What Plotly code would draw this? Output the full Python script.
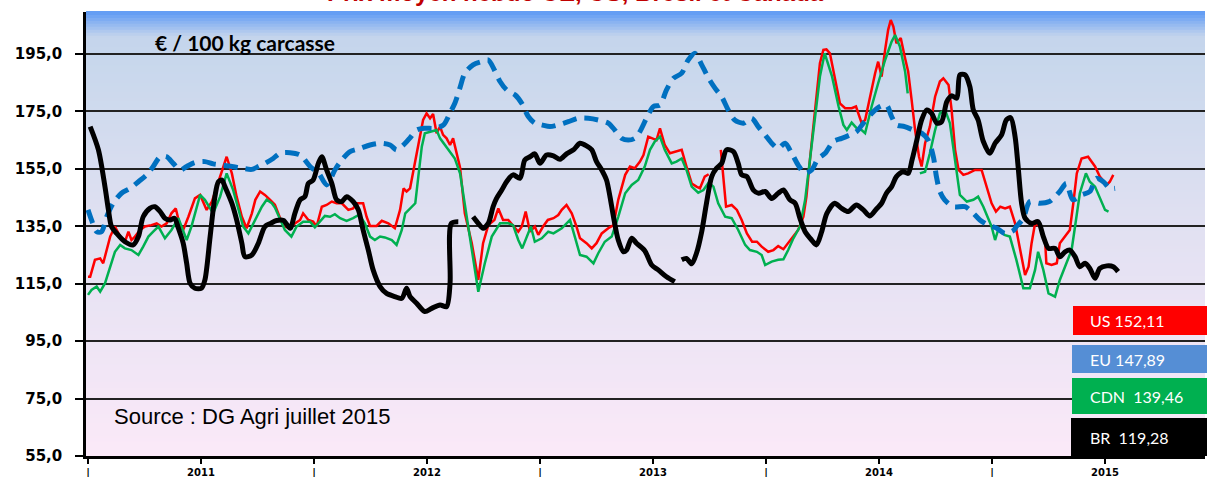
import plotly.graph_objects as go

# weekly prices, x = week index from start of the chart (tick every 26 weeks)
us_weeks = [0, 0.5, 1.6, 2.8, 3.5, 4.3, 5.1, 6.2, 7.4, 8.5, 9.3, 10.0, 10.8, 12.0, 13.1, 14.6, 15.8, 16.9, 18.1, 19.2,
            20.2, 21.2, 21.9, 23.1, 24.6, 25.8, 27.3, 28.5, 29.6, 30.8, 31.9, 33.1, 34.2, 35.4, 36.5, 37.7, 38.5, 39.6,
            40.7, 41.9, 43.0, 44.2, 45.3, 46.5, 47.6, 48.8, 49.5, 50.7, 51.8, 52.6, 53.8, 54.9, 56.1, 57.2, 58.4, 59.9,
            61.0, 61.8, 63.3, 64.1, 64.9, 66.4, 67.6, 69.1, 70.6, 71.8, 72.6, 73.3, 74.1, 74.9, 76.0, 77.1, 77.9, 78.7,
            79.4, 80.2, 81.0, 81.7, 82.5, 83.3, 84.0, 84.8, 85.6, 86.7, 88.3, 89.8, 90.9, 92.1, 93.5, 94.4, 95.5, 96.7,
            97.8, 99.0, 99.8, 100.7, 101.7, 102.8, 103.6, 104.7, 105.8, 107.1, 108.2, 109.0, 110.1, 111.3, 112.4, 113.2,
            114.7, 115.9, 117.0, 118.2, 119.7, 120.9, 122.0, 123.6, 124.7, 125.8, 127.0, 127.8, 128.9, 130.1, 130.8,
            131.6, 132.7, 133.9, 135.4, 136.6, 137.7, 138.9, 140.0, 140.8, 141.9, 142.8, 144.0, 145.6, 146.8, 148.1,
            149.3, 150.4, 151.6, 152.8, 153.9, 155.0, 156.5, 157.7, 158.8, 160.0, 161.1, 162.3, 163.4, 164.6, 165.3,
            166.1, 166.9, 167.6, 168.4, 169.2, 169.9, 170.7, 171.9, 173.0, 174.2, 175.7, 176.7, 177.2, 178.0, 178.8,
            179.9, 181.1, 181.8, 182.6, 183.4, 184.1, 184.7, 185.3, 186.0, 187.0, 187.9, 188.7, 189.5, 190.3, 191.2,
            191.8, 192.6, 193.7, 194.9, 196.0, 196.8, 198.0, 198.7, 199.5, 200.3, 201.4, 202.5, 204.1, 205.6, 206.8,
            207.9, 208.9, 209.9, 211.0, 212.1, 213.3, 214.4, 215.6, 216.4, 217.1, 217.9, 219.0, 220.2, 220.5, 221.7,
            222.9, 223.6, 224.8, 225.9, 226.7, 227.5, 228.6, 230.1, 231.7, 232.8, 234.4, 235.1, 235.9]
us_vals = [117.4, 117.4, 123.3, 123.8, 122.1, 126.7, 131.4, 134.9, 131.4, 129.6, 133.1, 130.2, 131.4, 133.7, 134.9,
           135.4, 136.0, 134.9, 136.0, 139.5, 141.2, 134.9, 133.7, 138.3, 144.7, 145.9, 140.7, 143.6, 148.8, 154.6,
           159.2, 153.4, 145.3, 138.3, 134.3, 139.5, 144.2, 147.1, 145.9, 144.2, 142.5, 137.8, 134.9, 134.3, 136.0,
           137.2, 139.5, 137.2, 136.6, 134.9, 141.8, 142.4, 143.6, 143.0, 143.0, 140.7, 141.2, 143.0, 143.0, 138.3,
           135.1, 135.1, 136.9, 136.0, 134.3, 140.7, 148.2, 147.1, 148.2, 154.6, 163.9, 172.0, 174.3, 172.6, 174.1,
           167.4, 169.7, 166.8, 165.6, 163.3, 165.6, 160.4, 155.5, 139.5, 129.1, 116.3, 129.1, 135.4, 137.2, 141.2,
           137.2, 137.2, 135.4, 133.1, 134.9, 140.1, 133.1, 134.9, 132.0, 134.9, 137.2, 137.8, 138.9, 140.7, 142.4,
           139.5, 134.9, 130.8, 129.1, 127.3, 129.1, 132.5, 134.3, 135.4, 144.2, 152.9, 155.8, 155.2, 157.5, 159.8,
           166.2, 165.6, 165.0, 169.1, 163.3, 160.4, 161.0, 161.6, 155.8, 149.9, 148.8, 148.2, 152.3, 153.1, None,
           161.6, 141.8, 142.4, 140.7, 137.2, 132.5, 129.6, 129.6, 127.9, 126.1, 126.7, 128.1, 127.0, 129.1, 131.4,
           133.7, 138.3, 145.3, 158.1, 169.7, 181.3, 191.8, 196.4, 196.6, 195.2, 185.9, 177.8, 176.1, 176.1, 176.7,
           174.3, 170.9, 172.0, 180.1, 188.3, 192.3, 187.1, 196.4, 203.4, 206.8, 204.5, 198.7, 200.5, 194.1, 188.9,
           179.0, 168.5, 159.2, 155.8, 163.9, 169.7, 180.1, 185.4, 186.5, 184.2, 175.5, 161.6, 154.6, 152.9, 153.4,
           154.6, 154.6, 148.8, 143.0, 140.1, 141.8, 141.2, 141.8, 136.0, 126.7, 118.0, 120.9, 129.1, 136.0, 134.9,
           130.2, 122.1, 121.5, 122.1, 129.1, 131.4, 133.7, 143.0, 153.4, 158.6, 159.2, 155.8, 152.3, 149.4, 150.5,
           152.9]

eu_weeks = [0, 0.8, 2.0, 3.1, 4.3, 5.8, 7.7, 9.7, 11.6, 13.5, 15.0, 16.6, 18.1, 19.6, 21.2, 22.7, 24.6, 26.9, 28.8,
            30.8, 33.1, 35.4, 37.7, 39.2, 40.7, 42.6, 44.2, 46.5, 48.8, 51.1, 53.1, 54.9, 56.8, 58.4, 60.3, 62.6, 64.9,
            67.2, 69.5, 71.0, 72.6, 74.1, 75.6, 77.5, 79.8, 81.8, 83.3, 84.4, 85.6, 86.7, 88.6, 90.5, 92.1, 93.5, 94.8,
            96.3, 98.3, 99.8, 101.3, 102.8, 104.4, 106.3, 108.2, 110.5, 112.8, 115.1, 117.4, 119.7, 121.2, 122.8, 124.3,
            125.8, 127.0, 128.5, 130.1, 131.6, 133.1, 134.7, 136.6, 138.1, 139.7, 141.2, 142.8, 144.3, 145.8, 147.3,
            148.8, 150.8, 152.7, 154.2, 155.8, 157.3, 158.8, 160.4, 161.9, 163.4, 164.9, 166.5, 168.0, 169.6, 171.5,
            173.4, 175.3, 176.8, 178.4, 180.3, 182.2, 183.7, 184.9, 186.0, 187.9, 189.9, 191.8, 193.3, 194.5, 195.2,
            196.0, 197.1, 199.1, 201.8, 203.7, 205.2, 207.1, 209.1, 211.0, 212.9, 213.6, 215.2, 216.7, 219.0, 221.2,
            223.6, 225.1, 226.6, 228.6, 230.5, 232.0, 233.6, 235.1, 236.3]
eu_vals = [140.7, 137.2, 133.1, 133.1, 138.3, 143.0, 146.5, 148.2, 150.5, 152.9, 155.8, 159.2, 159.2, 156.9, 154.6,
           155.8, 157.2, 157.5, 156.7, 156.3, 155.8, 155.2, 154.8, 155.8, 156.9, 158.6, 160.4, 160.6, 159.8, 155.8,
           153.4, 149.4, 154.6, 158.1, 161.0, 162.1, 163.3, 163.9, 163.3, 161.6, 163.3, 165.8, 168.5, 169.1, 169.1,
           170.3, 174.5, 177.8, 183.3, 188.3, 191.2, 192.3, 192.9, 189.4, 185.4, 182.5, 180.7, 177.8, 173.2, 170.9,
           170.3, 169.7, 170.3, 171.4, 172.6, 172.6, 172.0, 170.9, 168.5, 165.6, 165.0, 165.6, 168.0, 172.6, 176.7,
           177.2, 182.5, 186.5, 188.3, 192.9, 195.2, 191.2, 186.5, 183.0, 180.1, 175.5, 172.0, 170.9, 172.6, 169.7,
           166.8, 163.9, 162.1, 163.9, 160.4, 156.3, 153.4, 154.6, 158.6, 160.4, 164.5, 165.6, 166.8, 167.9, 170.9,
           174.3, 176.7, 177.2, 173.2, 170.3, 169.7, 168.5, 167.4, 165.0, 159.2, 152.3, 147.1, 144.2, 141.8, 141.8,
           139.5, 137.2, 135.4, 134.3, 132.5, 133.5, 134.9, 137.8, 143.6, 143.0, 143.6, 147.1, 149.9, 144.2, 145.9,
           147.1, 151.7, 150.5, 148.2, 148.2]

cdn_weeks = [0, 0.8, 2.0, 2.8, 3.9, 5.1, 6.2, 7.4, 8.5, 10.0, 11.6, 12.7, 13.9, 15.0, 16.2, 17.7, 19.2, 20.8, 21.9,
             22.7, 23.8, 25.8, 26.9, 28.8, 30.4, 31.9, 33.4, 34.6, 35.7, 36.9, 38.4, 40.0, 41.1, 42.3, 43.0, 44.2, 45.3,
             46.8, 48.0, 49.5, 51.1, 52.2, 53.4, 54.5, 55.7, 56.8, 58.0, 59.5, 61.0, 62.4, 63.7, 64.9, 66.0, 67.2, 68.3,
             69.9, 71.0, 72.2, 73.0, 74.1, 75.3, 76.0, 76.8, 77.5, 78.7, 79.4, 80.2, 81.0, 82.1, 83.3, 84.4, 85.6, 86.7,
             88.3, 89.8, 91.3, 92.9, 94.8, 96.7, 97.8, 99.0, 99.9, 100.9, 101.9, 102.8, 104.4, 105.9, 107.1, 109.0,
             110.9, 112.0, 113.2, 114.7, 116.3, 117.4, 118.9, 120.5, 122.0, 123.6, 125.1, 126.6, 128.1, 129.3, 130.4,
             131.6, 132.7, 134.3, 135.4, 136.6, 137.7, 138.9, 140.4, 141.6, 142.8, 143.9, 145.0, 146.6, 148.1, 149.6,
             151.2, 152.3, 153.9, 155.0, 155.8, 157.3, 158.8, 160.0, 161.1, 162.3, 163.8, 165.0, 166.1, 167.2, 168.4,
             169.5, 171.2, 172.7, 173.8, 174.6, 175.7, 176.9, 178.0, 178.8, 180.3, 181.8, 183.4, 184.9, 185.7, 186.8,
             188.0, 188.6, 190.0, 191.4, 192.6, 193.7, 194.9, 196.0, 197.2, 198.3, 199.1, 199.9, 200.6, 202.2, 203.7,
             204.8, 206.0, 207.1, 207.9, 208.7, 209.4, 211.0, 212.1, 213.6, 215.2, 216.7, 217.9, 218.6, 219.8, 221.0,
             222.5, 223.6, 225.2, 226.3, 227.1, 228.2, 229.6, 230.5, 231.7, 232.8, 234.0, 234.8]
cdn_vals = [111.1, 112.8, 114.0, 112.2, 115.1, 120.9, 126.1, 128.5, 127.3, 126.7, 125.0, 127.9, 131.4, 133.1, 134.9,
            130.8, 133.7, 137.8, 133.1, 130.2, 134.9, 145.9, 144.2, 139.5, 145.3, 153.4, 147.6, 140.7, 134.9, 132.5,
            137.2, 141.8, 144.2, 143.0, 141.5, 137.2, 133.7, 131.4, 134.9, 136.6, 136.6, 134.6, 136.6, 138.6, 138.3,
            139.2, 137.8, 136.9, 137.8, 139.0, 136.0, 131.4, 130.2, 131.4, 131.1, 130.2, 128.5, 133.7, 139.5, 141.2,
            143.0, 152.3, 162.7, 167.4, 167.9, 168.3, 168.5, 165.6, 163.3, 161.0, 158.6, 153.4, 143.0, 127.9, 112.2,
            122.1, 131.4, 136.0, 136.0, 135.4, 130.2, 127.3, 131.4, 134.9, 129.6, 130.8, 133.1, 132.5, 134.3, 137.2,
            131.4, 125.0, 124.4, 122.1, 125.6, 129.6, 131.4, 138.3, 146.5, 149.4, 151.1, 155.8, 161.6, 164.5, 166.2,
            161.6, 156.9, 157.5, 158.6, 154.6, 148.8, 146.7, 147.6, 150.2, 148.8, 143.0, 138.3, 137.8, 133.7, 128.5,
            126.7, 126.1, 125.0, 121.5, 122.7, 123.3, 123.5, 126.7, 130.8, 134.9, 144.2, 158.1, 173.2, 187.1, 195.2,
            187.1, 176.7, 170.3, 168.5, 171.1, 169.1, 168.5, 167.4, 176.7, 184.8, 192.9, 199.3, 201.6, 197.6, 188.9,
            181.3, None, 153.4, 154.0, 160.4, 168.5, 174.3, 175.5, 170.9, 161.6, 152.3, 145.9, 143.6, 144.2, 145.3,
            141.8, 137.8, 134.9, 130.2, 133.7, 131.9, 131.4, 123.3, 113.4, 113.4, 119.8, 126.1, 119.8, 111.6, 110.5,
            116.3, 122.1, 126.7, 134.9, 146.5, 153.4, 150.5, 148.8, 144.7, 140.7, 140.1]

br_weeks = [0.5, 2.4, 3.9, 4.7, 5.4, 6.6, 8.5, 10.4, 11.6, 12.7, 14.3, 15.4, 16.6, 17.7, 18.9, 19.9, 20.8, 21.9, 22.7,
            23.5, 24.6, 26.1, 26.9, 28.1, 29.2, 30.0, 30.8, 31.5, 33.1, 34.2, 35.4, 36.1, 37.7, 39.2, 40.7, 42.0, 43.4,
            45.0, 46.5, 47.6, 48.8, 49.9, 50.7, 51.8, 53.0, 53.8, 54.9, 56.1, 57.2, 58.4, 59.5, 61.0, 62.2, 63.3, 64.5,
            65.6, 67.2, 68.7, 70.6, 72.2, 73.3, 74.1, 75.6, 77.5, 79.1, 81.0, 82.5, 83.3, 83.6, 85.2, 86.9, 88.6, 89.8,
            90.9, 92.1, 93.2, 94.0, 95.2, 96.3, 97.8, 99.4, 100.5, 101.7, 102.8, 104.0, 105.5, 107.1, 108.6, 110.1,
            111.7, 113.2, 114.7, 115.9, 117.0, 118.2, 119.3, 120.1, 120.9, 122.0, 123.2, 123.9, 125.1, 126.2, 128.1,
            129.7, 131.2, 133.1, 135.0, 135.8, 136.6, 137.7, 138.9, 140.0, 141.2, 142.3, 143.5, 144.6, 145.8, 146.9,
            148.5, 149.6, 150.4, 151.6, 153.1, 154.3, 155.8, 157.3, 158.8, 160.0, 161.5, 162.7, 163.8, 165.0, 166.5,
            167.6, 168.8, 170.0, 171.8, 173.4, 174.9, 176.8, 178.4, 179.9, 181.5, 182.6, 183.7, 184.9, 186.0, 187.6,
            188.7, 189.6, 190.7, 191.8, 193.0, 194.1, 195.3, 196.4, 197.6, 198.7, 199.9, 200.6, 201.8, 202.9, 203.7,
            204.8, 206.0, 207.5, 208.7, 210.2, 211.3, 212.3, 213.3, 214.0, 214.8, 215.6, 217.1, 218.6, 219.8, 221.0,
            222.5, 223.6, 224.8, 225.9, 227.1, 228.2, 229.4, 230.5, 231.7, 232.8, 234.4, 235.9, 237.0]
br_vals = [169.7, 161.6, 148.8, 140.7, 134.9, 132.5, 129.6, 128.5, 131.4, 138.3, 141.3, 141.8, 140.1, 137.8, 137.2,
           137.8, 134.3, 129.1, 122.1, 115.1, 113.4, 113.4, 116.3, 131.4, 145.3, 150.5, 151.1, 148.8, 143.0, 137.2,
           129.1, 124.4, 125.0, 129.1, 134.9, 136.0, 137.0, 137.0, 134.3, 139.5, 144.2, 145.3, 149.9, 151.1, 156.9,
           159.2, 154.6, 149.9, 144.2, 143.6, 145.3, 143.6, 140.7, 133.7, 126.7, 119.8, 114.0, 111.6, 110.5, 109.9,
           113.4, 110.5, 108.2, 105.3, 106.4, 107.6, 107.0, 115.1, 136.0, 136.6, None, 138.3, 136.0, 134.3, 136.0,
           141.8, 144.7, 147.6, 150.5, 152.9, 151.7, 158.1, 159.2, 160.2, 156.9, 159.8, 159.5, 158.3, 160.2, 161.6,
           163.9, 163.0, 161.6, 157.5, 154.6, 151.1, 145.3, 138.3, 130.2, 126.1, 126.7, 130.8, 129.1, 126.5, 121.5,
           119.8, 117.4, 115.7, None, 123.3, 123.8, 121.9, 125.6, 133.1, 143.0, 152.3, 155.2, 156.9, 161.6, 161.0,
           156.9, 152.9, 152.3, 147.6, 146.5, 147.1, 144.7, 146.5, 147.6, 144.2, 143.0, 137.8, 133.1, 130.2, 128.5,
           133.1, 139.5, 143.0, 141.2, 140.1, 142.4, 140.7, 138.6, 141.2, 143.0, 146.5, 148.8, 152.3, 154.0, 153.4,
           158.1, 165.0, 172.0, 175.5, 174.3, 170.9, 171.4, 178.4, 180.4, 179.6, 187.7, 187.7, 183.6, 175.5, 172.0,
           164.5, 160.4, 163.9, 166.8, 172.0, 172.8, 166.2, 155.8, 143.0, 137.8, 136.0, 136.6, 131.4, 127.3, 127.3,
           124.4, 126.1, 126.7, 124.4, 120.9, 122.1, 120.3, 116.9, 120.3, 121.2, 120.9, 119.2]

tick_weeks = [0, 26, 52, 78, 104, 130, 156, 182, 208, 234]
tick_labels = ['|', '2011', '|', '2012', '|', '2013', '|', '2014', '|', '2015']
y_ticks = [55, 75, 95, 115, 135, 155, 175, 195]

last_labels = ['US 152,11', 'EU 147,89', 'CDN  139,46', 'BR  119,28']
last_colors = ['#ff0000', '#558ed5', '#00b050', '#000000']

W, H = 1207, 477
L, R, T, B = 86, 2, 12, 21


def px_x(p):
    return (p - L) / (W - L - R)


def px_y(p):
    return (H - B - p) / (H - T - B)


fig = go.Figure()
fig.add_trace(go.Scatter(x=us_weeks, y=us_vals, mode='lines', line=dict(color='#ff0000', width=2.5)))
fig.add_trace(go.Scatter(x=cdn_weeks, y=cdn_vals, mode='lines', line=dict(color='#00b050', width=2.5)))
fig.add_trace(go.Scatter(x=eu_weeks, y=eu_vals, mode='lines',
                         line=dict(color='#0070c0', width=5, dash='14px,8px', shape='spline', smoothing=0.8)))
fig.add_trace(go.Scatter(x=br_weeks, y=br_vals, mode='lines',
                         line=dict(color='#000000', width=5, shape='spline', smoothing=0.8)))

# background gradient of the plot area
stops = [(0.0, (251, 233, 248)), (0.5, (226, 225, 242)), (0.9, (199, 215, 236)),
         (0.945, (196, 212, 236)), (1.0, (95, 155, 245))]


def grad(t):
    for (a, ca), (b, cb) in zip(stops[:-1], stops[1:]):
        if a <= t <= b:
            f = (t - a) / (b - a)
            return 'rgb(%d,%d,%d)' % tuple(round(ca[i] + f * (cb[i] - ca[i])) for i in range(3))
    return 'rgb(%d,%d,%d)' % stops[-1][1]


n = 150
shapes = []
for i in range(n):
    shapes.append(dict(type='rect', xref='paper', yref='paper', x0=0, x1=1, y0=i / n, y1=(i + 1) / n + 0.002,
                       fillcolor=grad((i + 0.5) / n), line=dict(width=0), layer='below'))

# value boxes on the right
boxes = [(1073, 306, 335), (1072, 345, 373), (1072, 378, 414), (1071, 418, 456)]
annotations = []
for (x0, y0, y1), lab, col in zip(boxes, last_labels, last_colors):
    shapes.append(dict(type='rect', xref='paper', yref='paper', x0=px_x(x0), x1=px_x(W + 2),
                       y0=px_y(y1), y1=px_y(y0), fillcolor=col, line=dict(width=0), layer='above'))
    annotations.append(dict(text=lab, xref='paper', yref='paper', x=px_x(1088), y=px_y((y0 + y1) / 2),
                            xanchor='left', yanchor='middle', showarrow=False,
                            font=dict(family='Lato', size=16, color='white')))

annotations.append(dict(text='Prix moyen hebdo UE, US, Brésil et Canada', xref='paper', yref='paper',
                        x=px_x(575), y=px_y(-8), xanchor='center', yanchor='middle', showarrow=False,
                        font=dict(family='Liberation Sans', size=24, color='#c00000', weight='bold')))
annotations.append(dict(text='€ / 100 kg carcasse', xref='paper', yref='paper', x=px_x(153), y=px_y(43),
                        xanchor='left', yanchor='middle', showarrow=False,
                        font=dict(family='Lato', size=21, color='black', weight='bold')))
annotations.append(dict(text='Source : DG Agri juillet 2015', xref='paper', yref='paper', x=px_x(112), y=px_y(416),
                        xanchor='left', yanchor='middle', showarrow=False,
                        font=dict(family='Liberation Sans', size=22, color='black')))

fig.update_layout(
    width=W, height=H,
    margin=dict(l=L, r=R, t=T, b=B),
    paper_bgcolor='white', plot_bgcolor='rgba(0,0,0,0)',
    showlegend=False,
    shapes=shapes, annotations=annotations,
    xaxis=dict(range=[-0.46, 257], tickvals=tick_weeks, ticktext=tick_labels, ticks='outside', ticklen=5,
               tickwidth=1.5, tickcolor='black', showline=True, linecolor='black', linewidth=2.5,
               showgrid=False, zeroline=False, automargin=False,
               tickfont=dict(family='DejaVu Sans', size=10, color='black', weight='bold')),
    yaxis=dict(range=[55, 209.6], tickvals=y_ticks, ticktext=['%d,0' % v for v in y_ticks], ticks='outside',
               ticklen=8, tickwidth=1.5, tickcolor='black', showline=True, linecolor='black', linewidth=2.5,
               showgrid=True, gridcolor='#222222', gridwidth=1.5, zeroline=False, ticklabelstandoff=10,
               automargin=False,
               tickfont=dict(family='DejaVu Sans', size=15, color='black', weight='bold')),
)

# drop the default page margin so the figure sits at the window's top-left corner
fig.write_html("out.html", config={'displayModeBar': False},
               post_script="document.body.style.margin='0';")
